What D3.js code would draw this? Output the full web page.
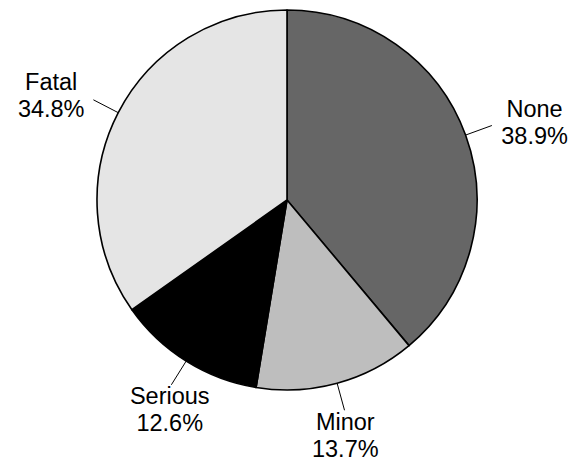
<!DOCTYPE html>
<html>
<head>
<meta charset="utf-8">
<script src="https://cdn.jsdelivr.net/npm/d3@7"></script>
<style>
  html, body { margin: 0; padding: 0; background: #ffffff; }
  svg { display: block; }
  text { font-family: "Liberation Sans", Arial, Helvetica, sans-serif; fill: #000; }
</style>
</head>
<body>
<svg id="chart" width="581" height="464"></svg>
<script>
// Injury severity shares (percent)
const categories = ["None", "Minor", "Serious", "Fatal"];
const values = [38.9, 13.7, 12.6, 34.8];
const percentLabels = ["38.9%", "13.7%", "12.6%", "34.8%"];
const fills = ["#666666", "#bebebe", "#000000", "#e5e5e5"];

const width = 581, height = 464;
const cx = 287, cy = 200, radius = 190;
const fontSize = 23.5, lineGap = 27;

const svg = d3.select("#chart");
const g = svg.append("g").attr("transform", `translate(${cx},${cy})`);

const data = categories.map((c, i) => ({ name: c, value: values[i], label: percentLabels[i], fill: fills[i] }));

// Clockwise from 12 o'clock, in data order
const pie = d3.pie().value(d => d.value).sort(null);
const arc = d3.arc().innerRadius(0).outerRadius(radius);
const arcs = pie(data);

g.selectAll("path.slice")
  .data(arcs)
  .join("path")
  .attr("class", "slice")
  .attr("d", arc)
  .attr("fill", d => d.data.fill)
  .attr("stroke", "#000")
  .attr("stroke-width", 1.6)
  .attr("stroke-linejoin", "round");

// Leader lines and two-line labels
const lineOuter = radius + 28;
arcs.forEach(a => {
  const mid = (a.startAngle + a.endAngle) / 2;
  const ux = Math.sin(mid), uy = -Math.cos(mid);
  const x1 = ux * radius, y1 = uy * radius;
  const x2 = ux * lineOuter, y2 = uy * lineOuter;
  g.append("line")
    .attr("x1", x1).attr("y1", y1)
    .attr("x2", x2).attr("y2", y2)
    .attr("stroke", "#000").attr("stroke-width", 1);

  const side = Math.abs(ux) > 0.7;
  const pad = side ? 10 : 3;
  const ax = x2 + ux * pad, ay = y2 + uy * pad;
  const t = g.append("text")
    .attr("font-size", fontSize)
    .attr("text-anchor", "middle");
  const l1 = t.append("tspan").text(a.data.name);
  const l2 = t.append("tspan").text(a.data.label);
  const w = Math.max(l1.node().getComputedTextLength(), l2.node().getComputedTextLength());
  const capH = 0.716 * fontSize;
  const blockH = capH + lineGap;

  let bx, capTop;
  if (side) {
    // side label: block edge at anchor, vertically centred
    bx = ux > 0 ? ax + w / 2 : ax - w / 2;
    capTop = ay - blockH / 2;
  } else {
    // top/bottom label: centred on anchor horizontally
    bx = ax;
    capTop = uy > 0 ? ay : ay - blockH;
  }
  l1.attr("x", bx).attr("y", capTop + capH);
  l2.attr("x", bx).attr("y", capTop + capH + lineGap);
});
</script>
</body>
</html>
